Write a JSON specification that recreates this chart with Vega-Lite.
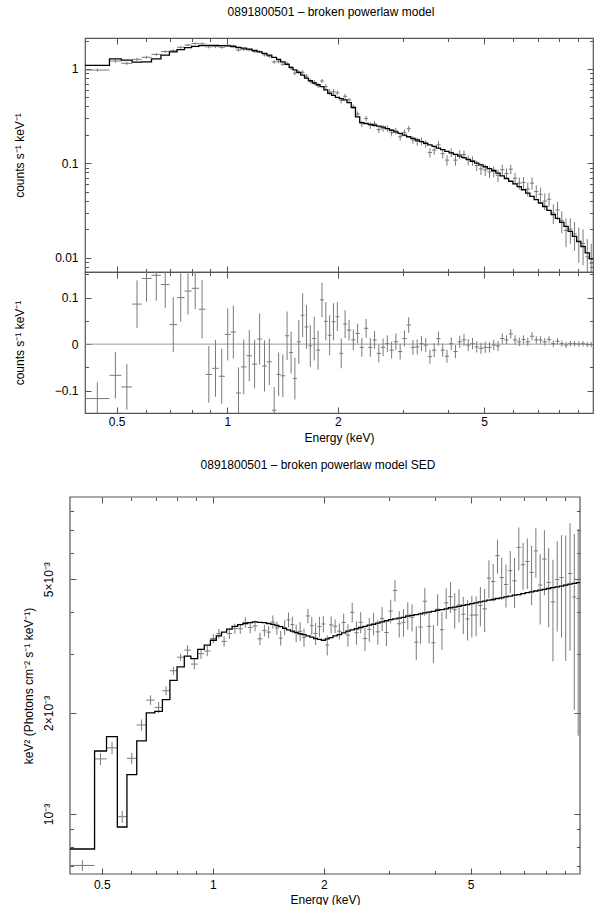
{
  "$schema": "https://vega.github.io/schema/vega-lite/v6.json",
  "background": "white",
  "padding": {"left": 12, "top": 4, "right": 0, "bottom": 0},
  "datasets": {
    "bins": [
      {"lo":0.41,"hi":0.478,"e":0.443,"c":0.973,"ce":0.035,"r":-0.117,"sd":7.03e-4,"se":2.53e-5},
      {"lo":0.478,"hi":0.515,"e":0.496,"c":1.213,"ce":0.05,"r":-0.067,"sd":1.459e-3,"se":6.0e-5},
      {"lo":0.515,"hi":0.551,"e":0.533,"c":1.148,"ce":0.049,"r":-0.092,"sd":1.574e-3,"se":6.7e-5},
      {"lo":0.551,"hi":0.585,"e":0.568,"c":1.266,"ce":0.051,"r":0.086,"sd":9.82e-4,"se":3.95e-5},
      {"lo":0.585,"hi":0.622,"e":0.603,"c":1.331,"ce":0.05,"r":0.141,"sd":1.465e-3,"se":5.5e-5},
      {"lo":0.622,"hi":0.66,"e":0.641,"c":1.428,"ce":0.055,"r":0.148,"sd":1.841e-3,"se":7.1e-5},
      {"lo":0.66,"hi":0.696,"e":0.678,"c":1.528,"ce":0.05,"r":0.128,"sd":2.183e-3,"se":7.1e-5},
      {"lo":0.696,"hi":0.73,"e":0.713,"c":1.562,"ce":0.059,"r":0.042,"sd":2.076e-3,"se":7.8e-5},
      {"lo":0.73,"hi":0.765,"e":0.747,"c":1.7,"ce":0.052,"r":0.1,"sd":2.327e-3,"se":7.1e-5},
      {"lo":0.765,"hi":0.8,"e":0.782,"c":1.794,"ce":0.05,"r":0.114,"sd":2.67e-3,"se":7.4e-5},
      {"lo":0.8,"hi":0.837,"e":0.818,"c":1.86,"ce":0.045,"r":0.12,"sd":2.929e-3,"se":7.1e-5},
      {"lo":0.837,"hi":0.872,"e":0.854,"c":1.845,"ce":0.063,"r":0.075,"sd":3.075e-3,"se":1.05e-4},
      {"lo":0.872,"hi":0.91,"e":0.891,"c":1.715,"ce":0.061,"r":-0.065,"sd":2.794e-3,"se":9.9e-5},
      {"lo":0.91,"hi":0.948,"e":0.929,"c":1.728,"ce":0.061,"r":-0.052,"sd":3.0e-3,"se":1.06e-4},
      {"lo":0.948,"hi":0.985,"e":0.966,"c":1.701,"ce":0.059,"r":-0.069,"sd":3.056e-3,"se":1.06e-4},
      {"lo":0.985,"hi":1.022,"e":1.003,"c":1.781,"ce":0.056,"r":0.021,"sd":3.329e-3,"se":1.05e-4},
      {"lo":1.022,"hi":1.056,"e":1.039,"c":1.756,"ce":0.057,"r":0.026,"sd":3.441e-3,"se":1.12e-4},
      {"lo":1.056,"hi":1.09,"e":1.073,"c":1.585,"ce":0.055,"r":-0.105,"sd":3.264e-3,"se":1.13e-4},
      {"lo":1.09,"hi":1.128,"e":1.109,"c":1.611,"ce":0.059,"r":-0.049,"sd":3.445e-3,"se":1.26e-4},
      {"lo":1.128,"hi":1.168,"e":1.148,"c":1.595,"ce":0.055,"r":-0.025,"sd":3.564e-3,"se":1.23e-4},
      {"lo":1.168,"hi":1.206,"e":1.187,"c":1.527,"ce":0.052,"r":-0.043,"sd":3.56e-3,"se":1.21e-4},
      {"lo":1.206,"hi":1.244,"e":1.225,"c":1.531,"ce":0.055,"r":0.011,"sd":3.717e-3,"se":1.34e-4},
      {"lo":1.244,"hi":1.282,"e":1.263,"c":1.413,"ce":0.055,"r":-0.047,"sd":3.591e-3,"se":1.4e-4},
      {"lo":1.282,"hi":1.322,"e":1.302,"c":1.362,"ce":0.05,"r":-0.038,"sd":3.629e-3,"se":1.33e-4},
      {"lo":1.322,"hi":1.362,"e":1.342,"c":1.188,"ce":0.05,"r":-0.142,"sd":3.323e-3,"se":1.4e-4},
      {"lo":1.362,"hi":1.398,"e":1.38,"c":1.195,"ce":0.047,"r":-0.065,"sd":3.519e-3,"se":1.38e-4},
      {"lo":1.398,"hi":1.437,"e":1.417,"c":1.122,"ce":0.046,"r":-0.068,"sd":3.479e-3,"se":1.43e-4},
      {"lo":1.437,"hi":1.474,"e":1.455,"c":1.138,"ce":0.052,"r":0.018,"sd":3.729e-3,"se":1.7e-4},
      {"lo":1.474,"hi":1.51,"e":1.492,"c":1.022,"ce":0.045,"r":-0.018,"sd":3.577e-3,"se":1.58e-4},
      {"lo":1.51,"hi":1.547,"e":1.528,"c":0.906,"ce":0.045,"r":-0.074,"sd":3.337e-3,"se":1.66e-4},
      {"lo":1.547,"hi":1.585,"e":1.566,"c":0.925,"ce":0.047,"r":0.005,"sd":3.589e-3,"se":1.82e-4},
      {"lo":1.585,"hi":1.623,"e":1.604,"c":0.922,"ce":0.047,"r":0.062,"sd":3.785e-3,"se":1.93e-4},
      {"lo":1.623,"hi":1.663,"e":1.643,"c":0.837,"ce":0.047,"r":0.037,"sd":3.662e-3,"se":2.06e-4},
      {"lo":1.663,"hi":1.704,"e":1.683,"c":0.746,"ce":0.045,"r":-0.004,"sd":3.452e-3,"se":2.08e-4},
      {"lo":1.704,"hi":1.746,"e":1.725,"c":0.722,"ce":0.047,"r":0.012,"sd":3.498e-3,"se":2.28e-4},
      {"lo":1.746,"hi":1.789,"e":1.767,"c":0.667,"ce":0.042,"r":-0.013,"sd":3.355e-3,"se":2.11e-4},
      {"lo":1.789,"hi":1.833,"e":1.811,"c":0.745,"ce":0.037,"r":0.095,"sd":3.886e-3,"se":1.93e-4},
      {"lo":1.833,"hi":1.877,"e":1.855,"c":0.649,"ce":0.041,"r":0.049,"sd":3.634e-3,"se":2.3e-4},
      {"lo":1.877,"hi":1.923,"e":1.9,"c":0.569,"ce":0.043,"r":0.019,"sd":3.445e-3,"se":2.6e-4},
      {"lo":1.923,"hi":1.97,"e":1.946,"c":0.573,"ce":0.04,"r":0.048,"sd":3.613e-3,"se":2.52e-4},
      {"lo":1.97,"hi":2.019,"e":1.994,"c":0.559,"ce":0.031,"r":0.059,"sd":3.678e-3,"se":2.04e-4},
      {"lo":2.019,"hi":2.068,"e":2.043,"c":0.465,"ce":0.032,"r":-0.02,"sd":3.183e-3,"se":2.19e-4},
      {"lo":2.068,"hi":2.118,"e":2.093,"c":0.513,"ce":0.03,"r":0.043,"sd":3.657e-3,"se":2.14e-4},
      {"lo":2.118,"hi":2.175,"e":2.146,"c":0.47,"ce":0.022,"r":0.03,"sd":3.621e-3,"se":1.7e-4},
      {"lo":2.175,"hi":2.234,"e":2.204,"c":0.399,"ce":0.022,"r":0.009,"sd":3.499e-3,"se":1.93e-4},
      {"lo":2.234,"hi":2.294,"e":2.264,"c":0.333,"ce":0.021,"r":0.023,"sd":3.717e-3,"se":2.34e-4},
      {"lo":2.294,"hi":2.356,"e":2.325,"c":0.263,"ce":0.02,"r":-0.007,"sd":3.409e-3,"se":2.59e-4},
      {"lo":2.356,"hi":2.42,"e":2.388,"c":0.298,"ce":0.02,"r":0.034,"sd":3.985e-3,"se":2.67e-4},
      {"lo":2.42,"hi":2.485,"e":2.452,"c":0.251,"ce":0.02,"r":-0.007,"sd":3.464e-3,"se":2.76e-4},
      {"lo":2.485,"hi":2.552,"e":2.518,"c":0.262,"ce":0.019,"r":0.009,"sd":3.718e-3,"se":2.7e-4},
      {"lo":2.552,"hi":2.621,"e":2.586,"c":0.228,"ce":0.019,"r":-0.02,"sd":3.328e-3,"se":2.77e-4},
      {"lo":2.621,"hi":2.692,"e":2.656,"c":0.235,"ce":0.019,"r":-0.007,"sd":3.544e-3,"se":2.87e-4},
      {"lo":2.692,"hi":2.765,"e":2.728,"c":0.234,"ce":0.018,"r":0.001,"sd":3.686e-3,"se":2.84e-4},
      {"lo":2.765,"hi":2.84,"e":2.802,"c":0.211,"ce":0.018,"r":-0.013,"sd":3.485e-3,"se":2.97e-4},
      {"lo":2.84,"hi":2.917,"e":2.878,"c":0.22,"ce":0.018,"r":0.005,"sd":3.817e-3,"se":3.12e-4},
      {"lo":2.917,"hi":2.996,"e":2.956,"c":0.191,"ce":0.017,"r":-0.016,"sd":3.469e-3,"se":3.09e-4},
      {"lo":2.996,"hi":3.077,"e":3.036,"c":0.211,"ce":0.017,"r":0.012,"sd":4.019e-3,"se":3.24e-4},
      {"lo":3.077,"hi":3.16,"e":3.118,"c":0.232,"ce":0.017,"r":0.041,"sd":4.628e-3,"se":3.39e-4},
      {"lo":3.16,"hi":3.245,"e":3.202,"c":0.177,"ce":0.016,"r":-0.007,"sd":3.684e-3,"se":3.33e-4},
      {"lo":3.245,"hi":3.333,"e":3.289,"c":0.1706,"ce":0.016,"r":-0.006,"sd":3.719e-3,"se":3.49e-4},
      {"lo":3.333,"hi":3.423,"e":3.378,"c":0.171,"ce":0.016,"r":0.001,"sd":3.903e-3,"se":3.65e-4},
      {"lo":3.423,"hi":3.515,"e":3.469,"c":0.161,"ce":0.015,"r":-0.002,"sd":3.852e-3,"se":3.59e-4},
      {"lo":3.515,"hi":3.61,"e":3.562,"c":0.13,"ce":0.015,"r":-0.027,"sd":3.246e-3,"se":3.75e-4},
      {"lo":3.61,"hi":3.708,"e":3.659,"c":0.138,"ce":0.015,"r":-0.013,"sd":3.601e-3,"se":3.91e-4},
      {"lo":3.708,"hi":3.808,"e":3.758,"c":0.157,"ce":0.015,"r":0.012,"sd":4.299e-3,"se":4.11e-4},
      {"lo":3.808,"hi":3.911,"e":3.859,"c":0.1264,"ce":0.014,"r":-0.013,"sd":3.618e-3,"se":4.01e-4},
      {"lo":3.911,"hi":4.017,"e":3.964,"c":0.108,"ce":0.014,"r":-0.026,"sd":3.232e-3,"se":4.19e-4},
      {"lo":4.017,"hi":4.125,"e":4.071,"c":0.13,"ce":0.014,"r":0.001,"sd":4.071e-3,"se":4.38e-4},
      {"lo":4.125,"hi":4.237,"e":4.181,"c":0.108,"ce":0.014,"r":-0.016,"sd":3.536e-3,"se":4.58e-4},
      {"lo":4.237,"hi":4.351,"e":4.294,"c":0.124,"ce":0.013,"r":0.005,"sd":4.251e-3,"se":4.46e-4},
      {"lo":4.351,"hi":4.469,"e":4.41,"c":0.1236,"ce":0.013,"r":0.009,"sd":4.433e-3,"se":4.66e-4},
      {"lo":4.469,"hi":4.59,"e":4.529,"c":0.108,"ce":0.013,"r":-0.002,"sd":4.055e-3,"se":4.88e-4},
      {"lo":4.59,"hi":4.714,"e":4.652,"c":0.106,"ce":0.012,"r":0.001,"sd":4.189e-3,"se":4.74e-4},
      {"lo":4.714,"hi":4.841,"e":4.777,"c":0.0945,"ce":0.012,"r":-0.006,"sd":3.93e-3,"se":4.99e-4},
      {"lo":4.841,"hi":4.972,"e":4.906,"c":0.0872,"ce":0.012,"r":-0.009,"sd":3.807e-3,"se":5.24e-4},
      {"lo":4.972,"hi":5.106,"e":5.039,"c":0.0848,"ce":0.012,"r":-0.007,"sd":3.907e-3,"se":5.53e-4},
      {"lo":5.106,"hi":5.244,"e":5.175,"c":0.0809,"ce":0.011,"r":-0.007,"sd":3.912e-3,"se":5.32e-4},
      {"lo":5.244,"hi":5.386,"e":5.315,"c":0.0818,"ce":0.011,"r":-0.002,"sd":4.178e-3,"se":5.62e-4},
      {"lo":5.386,"hi":5.531,"e":5.458,"c":0.0745,"ce":0.011,"r":-0.004,"sd":4.081e-3,"se":6.03e-4},
      {"lo":5.531,"hi":5.681,"e":5.606,"c":0.0855,"ce":0.011,"r":0.012,"sd":5.037e-3,"se":6.48e-4},
      {"lo":5.681,"hi":5.834,"e":5.757,"c":0.0779,"ce":0.01,"r":0.009,"sd":4.918e-3,"se":6.31e-4},
      {"lo":5.834,"hi":5.992,"e":5.913,"c":0.0865,"ce":0.01,"r":0.022,"sd":5.874e-3,"se":6.79e-4},
      {"lo":5.992,"hi":6.154,"e":6.073,"c":0.0694,"ce":0.01,"r":0.009,"sd":5.056e-3,"se":7.28e-4},
      {"lo":6.154,"hi":6.32,"e":6.237,"c":0.0616,"ce":0.009,"r":0.005,"sd":4.821e-3,"se":7.04e-4},
      {"lo":6.32,"hi":6.491,"e":6.405,"c":0.0624,"ce":0.009,"r":0.01,"sd":5.299e-3,"se":7.64e-4},
      {"lo":6.491,"hi":6.666,"e":6.578,"c":0.0533,"ce":0.009,"r":0.005,"sd":4.944e-3,"se":8.35e-4},
      {"lo":6.666,"hi":6.846,"e":6.756,"c":0.0616,"ce":0.009,"r":0.017,"sd":6.215e-3,"se":9.08e-4},
      {"lo":6.846,"hi":7.031,"e":6.938,"c":0.0501,"ce":0.008,"r":0.009,"sd":5.522e-3,"se":8.82e-4},
      {"lo":7.031,"hi":7.221,"e":7.126,"c":0.0469,"ce":0.008,"r":0.009,"sd":5.643e-3,"se":9.63e-4},
      {"lo":7.221,"hi":7.416,"e":7.318,"c":0.0398,"ce":0.008,"r":0.005,"sd":5.238e-3,"se":1.053e-3},
      {"lo":7.416,"hi":7.616,"e":7.516,"c":0.0416,"ce":0.007,"r":0.01,"sd":6.069e-3,"se":1.021e-3},
      {"lo":7.616,"hi":7.822,"e":7.719,"c":0.0296,"ce":0.007,"r":0.001,"sd":4.802e-3,"se":1.136e-3},
      {"lo":7.822,"hi":8.033,"e":7.927,"c":0.032,"ce":0.007,"r":0.006,"sd":5.735e-3,"se":1.255e-3},
      {"lo":8.033,"hi":8.25,"e":8.141,"c":0.0246,"ce":0.0065,"r":0.001,"sd":4.889e-3,"se":1.292e-3},
      {"lo":8.25,"hi":8.473,"e":8.361,"c":0.0194,"ce":0.0065,"r":-0.002,"sd":4.279e-3,"se":1.434e-3},
      {"lo":8.473,"hi":8.702,"e":8.587,"c":0.02,"ce":0.006,"r":0.001,"sd":4.989e-3,"se":1.497e-3},
      {"lo":8.702,"hi":8.937,"e":8.819,"c":0.0178,"ce":0.006,"r":0.001,"sd":5.054e-3,"se":1.704e-3},
      {"lo":8.937,"hi":9.178,"e":9.057,"c":0.0148,"ce":0.006,"r":0.0,"sd":4.8e-3,"se":1.946e-3},
      {"lo":9.178,"hi":9.426,"e":9.302,"c":0.0141,"ce":0.0058,"r":0.001,"sd":5.199e-3,"se":2.138e-3},
      {"lo":9.426,"hi":9.681,"e":9.553,"c":0.0102,"ce":0.0055,"r":-0.001,"sd":4.426e-3,"se":2.387e-3},
      {"lo":9.681,"hi":9.9,"e":9.79,"c":0.0087,"ce":0.0053,"r":-0.001,"sd":4.377e-3,"se":2.666e-3}
    ],
    "model": [
      {"E":0.41,"m":1.09,"s":7.87e-4},{"E":0.478,"m":1.28,"s":1.54e-3},{"E":0.515,"m":1.24,"s":1.70e-3},
      {"E":0.551,"m":1.18,"s":9.15e-4},{"E":0.585,"m":1.19,"s":1.31e-3},{"E":0.622,"m":1.28,"s":1.65e-3},
      {"E":0.66,"m":1.40,"s":2.0e-3},{"E":0.696,"m":1.52,"s":2.02e-3},{"E":0.73,"m":1.60,"s":2.19e-3},
      {"E":0.765,"m":1.68,"s":2.5e-3},{"E":0.8,"m":1.74,"s":2.74e-3},{"E":0.837,"m":1.77,"s":2.95e-3},
      {"E":0.872,"m":1.78,"s":2.90e-3},{"E":0.91,"m":1.78,"s":3.09e-3},{"E":0.948,"m":1.77,"s":3.18e-3},
      {"E":0.985,"m":1.76,"s":3.29e-3},{"E":1.022,"m":1.73,"s":3.39e-3},{"E":1.056,"m":1.69,"s":3.48e-3},
      {"E":1.09,"m":1.66,"s":3.55e-3},{"E":1.128,"m":1.62,"s":3.62e-3},{"E":1.168,"m":1.57,"s":3.66e-3},
      {"E":1.206,"m":1.52,"s":3.69e-3},{"E":1.244,"m":1.46,"s":3.71e-3},{"E":1.282,"m":1.40,"s":3.73e-3},
      {"E":1.322,"m":1.33,"s":3.72e-3},{"E":1.362,"m":1.26,"s":3.71e-3},{"E":1.398,"m":1.19,"s":3.69e-3},
      {"E":1.437,"m":1.12,"s":3.67e-3},{"E":1.474,"m":1.04,"s":3.64e-3},{"E":1.51,"m":0.98,"s":3.61e-3},
      {"E":1.547,"m":0.92,"s":3.57e-3},{"E":1.585,"m":0.86,"s":3.53e-3},{"E":1.623,"m":0.80,"s":3.50e-3},
      {"E":1.663,"m":0.75,"s":3.47e-3},{"E":1.704,"m":0.71,"s":3.44e-3},{"E":1.746,"m":0.68,"s":3.42e-3},
      {"E":1.789,"m":0.65,"s":3.39e-3},{"E":1.833,"m":0.60,"s":3.36e-3},{"E":1.877,"m":0.55,"s":3.33e-3},
      {"E":1.923,"m":0.525,"s":3.31e-3},{"E":1.97,"m":0.50,"s":3.29e-3},{"E":2.019,"m":0.485,"s":3.32e-3},
      {"E":2.068,"m":0.47,"s":3.35e-3},{"E":2.118,"m":0.44,"s":3.39e-3},{"E":2.175,"m":0.39,"s":3.42e-3},
      {"E":2.234,"m":0.31,"s":3.46e-3},{"E":2.294,"m":0.27,"s":3.50e-3},{"E":2.356,"m":0.264,"s":3.53e-3},
      {"E":2.42,"m":0.258,"s":3.56e-3},{"E":2.485,"m":0.253,"s":3.59e-3},{"E":2.552,"m":0.248,"s":3.62e-3},
      {"E":2.621,"m":0.242,"s":3.65e-3},{"E":2.692,"m":0.233,"s":3.67e-3},{"E":2.765,"m":0.224,"s":3.70e-3},
      {"E":2.84,"m":0.215,"s":3.73e-3},{"E":2.917,"m":0.207,"s":3.76e-3},{"E":2.996,"m":0.199,"s":3.79e-3},
      {"E":3.077,"m":0.191,"s":3.81e-3},{"E":3.16,"m":0.184,"s":3.83e-3},{"E":3.245,"m":0.1766,"s":3.85e-3},
      {"E":3.333,"m":0.170,"s":3.88e-3},{"E":3.423,"m":0.163,"s":3.90e-3},{"E":3.515,"m":0.157,"s":3.92e-3},
      {"E":3.61,"m":0.151,"s":3.94e-3},{"E":3.708,"m":0.145,"s":3.97e-3},{"E":3.808,"m":0.1394,"s":3.99e-3},
      {"E":3.911,"m":0.134,"s":4.01e-3},{"E":4.017,"m":0.129,"s":4.04e-3},{"E":4.125,"m":0.124,"s":4.06e-3},
      {"E":4.237,"m":0.119,"s":4.08e-3},{"E":4.351,"m":0.1146,"s":4.11e-3},{"E":4.469,"m":0.110,"s":4.13e-3},
      {"E":4.59,"m":0.105,"s":4.15e-3},{"E":4.714,"m":0.1005,"s":4.18e-3},{"E":4.841,"m":0.0962,"s":4.20e-3},
      {"E":4.972,"m":0.0918,"s":4.23e-3},{"E":5.106,"m":0.0879,"s":4.25e-3},{"E":5.244,"m":0.0838,"s":4.28e-3},
      {"E":5.386,"m":0.0785,"s":4.30e-3},{"E":5.531,"m":0.0735,"s":4.33e-3},{"E":5.681,"m":0.0689,"s":4.35e-3},
      {"E":5.834,"m":0.0645,"s":4.38e-3},{"E":5.992,"m":0.0604,"s":4.40e-3},{"E":6.154,"m":0.0566,"s":4.43e-3},
      {"E":6.32,"m":0.0524,"s":4.45e-3},{"E":6.491,"m":0.0483,"s":4.48e-3},{"E":6.666,"m":0.0446,"s":4.50e-3},
      {"E":6.846,"m":0.0411,"s":4.53e-3},{"E":7.031,"m":0.0379,"s":4.56e-3},{"E":7.221,"m":0.0348,"s":4.58e-3},
      {"E":7.416,"m":0.0316,"s":4.61e-3},{"E":7.616,"m":0.0286,"s":4.64e-3},{"E":7.822,"m":0.026,"s":4.66e-3},
      {"E":8.033,"m":0.0236,"s":4.69e-3},{"E":8.25,"m":0.0214,"s":4.72e-3},{"E":8.473,"m":0.019,"s":4.74e-3},
      {"E":8.702,"m":0.0168,"s":4.77e-3},{"E":8.937,"m":0.0148,"s":4.80e-3},{"E":9.178,"m":0.0131,"s":4.83e-3},
      {"E":9.426,"m":0.0112,"s":4.86e-3},{"E":9.681,"m":0.0097,"s":4.88e-3},{"E":9.9,"m":0.0097,"s":4.88e-3}
    ]
  },
  "columns": 1,
  "spacing": 15,
  "concat": [
    {
      "spacing": 0,
      "bounds": "flush",
      "vconcat": [
        {
          "width": 508,
          "height": 234,
          "title": {"text": "0891800501 – broken powerlaw model", "offset": 19, "frame": "group", "dx": -8},
          "layer": [
            {
              "data": {"name": "bins"},
              "mark": {"type": "rule", "color": "#7a7a7a", "strokeWidth": 1, "clip": true},
              "encoding": {
                "x": {"field": "lo", "type": "quantitative", "scale": {"type": "log", "domain": [0.41, 9.9], "nice": false},
                      "axis": {"orient": "bottom", "values": [0.5, 1, 2, 5], "labels": false, "tickSize": -6, "title": null}},
                "x2": {"field": "hi"},
                "y": {"field": "c", "type": "quantitative", "scale": {"type": "log", "domain": [0.00703, 2.13], "nice": false},
                      "axis": {"orient": "left", "values": [0.01, 0.1, 1], "tickSize": -6, "labelPadding": 13,
                               "labelExpr": "datum.value > 0.5 ? '1' : datum.value > 0.05 ? '0.1' : '0.01'",
                               "title": "counts s⁻¹ keV⁻¹", "titlePadding": 28}}
              }
            },
            {
              "data": {"name": "bins"},
              "mark": {"type": "errorbar", "color": "#7a7a7a", "thickness": 1, "clip": true},
              "encoding": {
                "x": {"field": "e", "type": "quantitative", "scale": {"type": "log", "domain": [0.41, 9.9], "nice": false}, "axis": null},
                "y": {"field": "c", "type": "quantitative", "scale": {"type": "log", "domain": [0.00703, 2.13], "nice": false}, "axis": null},
                "yError": {"field": "ce"}
              }
            },
            {
              "data": {"name": "model"},
              "mark": {"type": "line", "interpolate": "step-after", "color": "#000000", "strokeWidth": 1.3, "clip": true},
              "encoding": {
                "x": {"field": "E", "type": "quantitative", "scale": {"type": "log", "domain": [0.41, 9.9], "nice": false},
                      "axis": {"orient": "bottom", "values": [0.6, 0.7, 0.8, 0.9, 3, 4, 6, 7, 8, 9], "labels": false, "tickSize": -3.5, "title": null}},
                "y": {"field": "m", "type": "quantitative", "scale": {"type": "log", "domain": [0.00703, 2.13], "nice": false},
                      "axis": {"orient": "left", "values": [0.008, 0.009, 0.02, 0.03, 0.04, 0.05, 0.06, 0.07, 0.08, 0.09, 0.2, 0.3, 0.4, 0.5, 0.6, 0.7, 0.8, 0.9, 2], "labels": false, "tickSize": -3.5, "title": null}}
              }
            },
            {
              "data": {"name": "model"},
              "mark": {"type": "point", "opacity": 0, "size": 1, "clip": true},
              "encoding": {
                "x": {"field": "E", "type": "quantitative", "scale": {"type": "log", "domain": [0.41, 9.9], "nice": false},
                      "axis": {"orient": "top", "values": [0.5, 1, 2, 5], "labels": false, "tickSize": -6, "title": null}},
                "y": {"field": "m", "type": "quantitative", "scale": {"type": "log", "domain": [0.00703, 2.13], "nice": false},
                      "axis": {"orient": "right", "values": [0.01, 0.1, 1], "labels": false, "tickSize": -6, "title": null}}
              }
            },
            {
              "data": {"name": "model"},
              "mark": {"type": "point", "opacity": 0, "size": 1, "clip": true},
              "encoding": {
                "x": {"field": "E", "type": "quantitative", "scale": {"type": "log", "domain": [0.41, 9.9], "nice": false},
                      "axis": {"orient": "top", "values": [0.6, 0.7, 0.8, 0.9, 3, 4, 6, 7, 8, 9], "labels": false, "tickSize": -3.5, "title": null}},
                "y": {"field": "m", "type": "quantitative", "scale": {"type": "log", "domain": [0.00703, 2.13], "nice": false},
                      "axis": {"orient": "right", "values": [0.008, 0.009, 0.02, 0.03, 0.04, 0.05, 0.06, 0.07, 0.08, 0.09, 0.2, 0.3, 0.4, 0.5, 0.6, 0.7, 0.8, 0.9, 2], "labels": false, "tickSize": -3.5, "title": null}}
              }
            }
          ],
          "resolve": {"axis": {"x": "independent", "y": "independent"}}
        },
        {
          "width": 508,
          "height": 141,
          "layer": [
            {
              "data": {"values": [{"zero": 0}]},
              "mark": {"type": "rule", "color": "#999999", "strokeWidth": 1},
              "encoding": {
                "y": {"field": "zero", "type": "quantitative", "scale": {"domain": [-0.148, 0.155], "nice": false, "zero": false}, "axis": null}
              }
            },
            {
              "data": {"name": "bins"},
              "mark": {"type": "rule", "color": "#7a7a7a", "strokeWidth": 1, "clip": true},
              "encoding": {
                "x": {"field": "lo", "type": "quantitative", "scale": {"type": "log", "domain": [0.41, 9.9], "nice": false},
                      "axis": {"orient": "bottom", "values": [0.5, 1, 2, 5], "tickSize": -6, "labelPadding": 9, "format": "~g", "title": "Energy (keV)", "titlePadding": 5}},
                "x2": {"field": "hi"},
                "y": {"field": "r", "type": "quantitative", "scale": {"domain": [-0.148, 0.155], "nice": false, "zero": false},
                      "axis": {"orient": "left", "values": [-0.1, 0, 0.1], "tickSize": -6, "labelPadding": 13,
                               "labelExpr": "datum.value > 0.05 ? '0.1' : datum.value < -0.05 ? '−0.1' : '0'",
                               "title": "counts s⁻¹ keV⁻¹", "titlePadding": 28}}
              }
            },
            {
              "data": {"name": "bins"},
              "mark": {"type": "errorbar", "color": "#7a7a7a", "thickness": 1, "clip": true},
              "encoding": {
                "x": {"field": "e", "type": "quantitative", "scale": {"type": "log", "domain": [0.41, 9.9], "nice": false}, "axis": null},
                "y": {"field": "r", "type": "quantitative", "scale": {"domain": [-0.148, 0.155], "nice": false, "zero": false}, "axis": null},
                "yError": {"field": "ce"}
              }
            },
            {
              "data": {"name": "bins"},
              "mark": {"type": "point", "opacity": 0, "size": 1, "clip": true},
              "encoding": {
                "x": {"field": "e", "type": "quantitative", "scale": {"type": "log", "domain": [0.41, 9.9], "nice": false},
                      "axis": {"orient": "bottom", "values": [0.6, 0.7, 0.8, 0.9, 3, 4, 6, 7, 8, 9], "labels": false, "tickSize": -3.5, "title": null}},
                "y": {"field": "r", "type": "quantitative", "scale": {"domain": [-0.148, 0.155], "nice": false, "zero": false},
                      "axis": {"orient": "left", "values": [-0.05, 0.05, 0.15], "labels": false, "tickSize": -3.5, "title": null}}
              }
            },
            {
              "data": {"name": "bins"},
              "mark": {"type": "point", "opacity": 0, "size": 1, "clip": true},
              "encoding": {
                "x": {"field": "e", "type": "quantitative", "scale": {"type": "log", "domain": [0.41, 9.9], "nice": false},
                      "axis": {"orient": "top", "values": [0.5, 1, 2, 5], "labels": false, "tickSize": -6, "title": null}},
                "y": {"field": "r", "type": "quantitative", "scale": {"domain": [-0.148, 0.155], "nice": false, "zero": false},
                      "axis": {"orient": "right", "values": [-0.1, 0, 0.1], "labels": false, "tickSize": -6, "title": null}}
              }
            },
            {
              "data": {"name": "bins"},
              "mark": {"type": "point", "opacity": 0, "size": 1, "clip": true},
              "encoding": {
                "x": {"field": "e", "type": "quantitative", "scale": {"type": "log", "domain": [0.41, 9.9], "nice": false},
                      "axis": {"orient": "top", "values": [0.6, 0.7, 0.8, 0.9, 3, 4, 6, 7, 8, 9], "labels": false, "tickSize": -3.5, "title": null}},
                "y": {"field": "r", "type": "quantitative", "scale": {"domain": [-0.148, 0.155], "nice": false, "zero": false},
                      "axis": {"orient": "right", "values": [-0.05, 0.05, 0.15], "labels": false, "tickSize": -3.5, "title": null}}
              }
            }
          ],
          "resolve": {"axis": {"x": "independent", "y": "independent"}}
        }
      ]
    },
    {
      "width": 495,
      "height": 377,
      "view": {"stroke": null},
      "title": {"text": "0891800501 – broken powerlaw model SED", "offset": 24, "frame": "group", "dx": -14.5},
      "layer": [
        {
          "data": {"values": [{"frame": "plot"}]},
          "mark": {"type": "rect", "fillOpacity": 0, "stroke": "#555555", "strokeWidth": 1.2},
          "encoding": {
            "x": {"datum": 0.41, "type": "quantitative", "scale": {"type": "log", "domain": [0.41, 9.9], "nice": false, "range": [-15, 495]}, "axis": null},
            "x2": {"datum": 9.9},
            "y": {"datum": 0.000663, "type": "quantitative", "scale": {"type": "log", "domain": [0.000663, 0.00878], "nice": false}, "axis": null},
            "y2": {"datum": 0.00878}
          }
        },
        {
          "data": {"name": "bins"},
          "mark": {"type": "rule", "color": "#7a7a7a", "strokeWidth": 1},
          "encoding": {
            "x": {"field": "lo", "type": "quantitative", "scale": {"type": "log", "domain": [0.41, 9.9], "nice": false, "range": [-15, 495]},
                  "axis": {"orient": "bottom", "values": [0.5, 1, 2, 5], "tickSize": -6, "labelPadding": 11, "format": "~g", "title": "Energy (keV)", "titlePadding": 4}},
            "x2": {"field": "hi"},
            "y": {"field": "sd", "type": "quantitative", "scale": {"type": "log", "domain": [0.000663, 0.00878], "nice": false},
                  "axis": {"orient": "left", "offset": 15, "values": [0.001, 0.002, 0.005], "tickSize": -6, "labelPadding": 21, "labelAngle": 270,
                           "labelAlign": "center", "labelBaseline": "bottom", "labelOverlap": false,
                           "labelExpr": "datum.value < 0.0015 ? '10⁻³' : datum.value < 0.003 ? '2×10⁻³' : '5×10⁻³'",
                           "title": "keV² (Photons cm⁻² s⁻¹ keV⁻¹)", "titlePadding": 7}}
          }
        },
        {
          "data": {"name": "bins"},
          "mark": {"type": "errorbar", "color": "#7a7a7a", "thickness": 1},
          "encoding": {
            "x": {"field": "e", "type": "quantitative", "scale": {"type": "log", "domain": [0.41, 9.9], "nice": false, "range": [-15, 495]}, "axis": null},
            "y": {"field": "sd", "type": "quantitative", "scale": {"type": "log", "domain": [0.000663, 0.00878], "nice": false}, "axis": null},
            "yError": {"field": "se"}
          }
        },
        {
          "data": {"name": "model"},
          "mark": {"type": "line", "interpolate": "step-after", "color": "#000000", "strokeWidth": 1.3},
          "encoding": {
            "x": {"field": "E", "type": "quantitative", "scale": {"type": "log", "domain": [0.41, 9.9], "nice": false, "range": [-15, 495]},
                  "axis": {"orient": "bottom", "values": [0.6, 0.7, 0.8, 0.9, 3, 4, 6, 7, 8, 9], "labels": false, "tickSize": -3.5, "title": null}},
            "y": {"field": "s", "type": "quantitative", "scale": {"type": "log", "domain": [0.000663, 0.00878], "nice": false},
                  "axis": {"orient": "left", "offset": 15, "values": [0.0007, 0.0008, 0.0009, 0.003, 0.004, 0.006, 0.007, 0.008], "labels": false, "tickSize": -3.5, "title": null}}
          }
        },
        {
          "data": {"name": "model"},
          "mark": {"type": "point", "opacity": 0, "size": 1},
          "encoding": {
            "x": {"field": "E", "type": "quantitative", "scale": {"type": "log", "domain": [0.41, 9.9], "nice": false, "range": [-15, 495]},
                  "axis": {"orient": "top", "values": [0.5, 1, 2, 5], "labels": false, "tickSize": -6, "title": null}},
            "y": {"field": "s", "type": "quantitative", "scale": {"type": "log", "domain": [0.000663, 0.00878], "nice": false},
                  "axis": {"orient": "right", "values": [0.001, 0.002, 0.005], "labels": false, "tickSize": -6, "title": null}}
          }
        },
        {
          "data": {"name": "model"},
          "mark": {"type": "point", "opacity": 0, "size": 1},
          "encoding": {
            "x": {"field": "E", "type": "quantitative", "scale": {"type": "log", "domain": [0.41, 9.9], "nice": false, "range": [-15, 495]},
                  "axis": {"orient": "top", "values": [0.6, 0.7, 0.8, 0.9, 3, 4, 6, 7, 8, 9], "labels": false, "tickSize": -3.5, "title": null}},
            "y": {"field": "s", "type": "quantitative", "scale": {"type": "log", "domain": [0.000663, 0.00878], "nice": false},
                  "axis": {"orient": "right", "values": [0.0007, 0.0008, 0.0009, 0.003, 0.004, 0.006, 0.007, 0.008], "labels": false, "tickSize": -3.5, "title": null}}
          }
        }
      ],
      "resolve": {"axis": {"x": "independent", "y": "independent"}}
    }
  ],
  "config": {
    "font": "Liberation Sans",
    "view": {"stroke": "#555555", "strokeWidth": 1.2},
    "axis": {
      "domain": false, "grid": false,
      "labelFont": "Liberation Sans", "labelFontSize": 12, "labelColor": "#000000",
      "titleFont": "Liberation Sans", "titleFontSize": 12, "titleFontWeight": "normal", "titleColor": "#000000",
      "tickColor": "#555555", "tickWidth": 1
    },
    "title": {"font": "Liberation Sans", "fontSize": 12, "fontWeight": "normal", "color": "#000000"}
  }
}
